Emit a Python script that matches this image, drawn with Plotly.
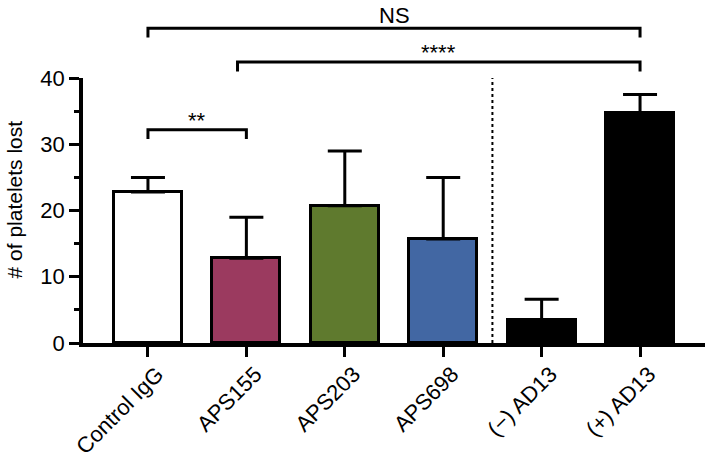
import plotly.graph_objects as go

categories = ["Control IgG", "APS155", "APS203", "APS698", "(\u2212) AD13", "(+) AD13"]
means = [22.8, 12.8, 20.7, 15.7, 3.5, 34.7]
errors_up = [2.2, 6.2, 8.3, 9.3, 3.1, 2.8]
fill_colors = ["#FFFFFF", "#9B3A5F", "#5F7A2E", "#4267A3", "#000000", "#000000"]

# significance brackets: (x_start, x_end, level, label, label_level)
brackets = [
    (0, 5, 47.5, "NS", 47.2),
    (0.91, 5, 42.4, "****", 41.7),
    (0, 1, 32.2, "**", 31.4),
]
YMAX = 40
FONT = "Liberation Sans, Arial, Helvetica, sans-serif"

xs = list(range(len(categories)))

fig = go.Figure()
fig.add_trace(go.Bar(
    x=xs, y=means, width=0.69,
    marker=dict(color=fill_colors, line=dict(color="black", width=3)),
    error_y=dict(type="data", symmetric=False, array=errors_up,
                 arrayminus=[0] * len(means), color="black",
                 thickness=3, width=17),
    showlegend=False,
))

shapes = []
annotations = []
drop = 1.4
for x0, x1, lvl, lab, lablvl in brackets:
    shapes.append(dict(
        type="path", xref="x", yref="paper",
        path=f"M {x0},{(lvl - drop) / YMAX} L {x0},{lvl / YMAX} L {x1},{lvl / YMAX} L {x1},{(lvl - drop) / YMAX}",
        line=dict(color="black", width=3),
    ))
    annotations.append(dict(
        x=(x0 + x1) / 2, y=lablvl / YMAX, xref="x", yref="paper",
        text=lab, showarrow=False, yanchor="bottom",
        font=dict(family=FONT, size=22, color="black"),
    ))

# dotted separator between groups
shapes.append(dict(type="line", xref="x", yref="y", x0=3.5, x1=3.5, y0=0, y1=YMAX,
                   line=dict(color="black", width=2, dash="dot")))

annotations.append(dict(
    x=-0.11, y=0.54, xref="paper", yref="paper", text="# of platelets lost",
    textangle=-90, showarrow=False, xanchor="center", yanchor="middle",
    font=dict(family=FONT, size=21, color="black"),
))

fig.update_layout(
    width=709, height=460,
    margin=dict(l=83, r=4, t=78, b=117),
    plot_bgcolor="white", paper_bgcolor="white",
    font=dict(family=FONT, color="black"),
    shapes=shapes, annotations=annotations,
    bargap=0,
)
fig.update_xaxes(
    range=[-0.66, 5.66], tickmode="array", tickvals=xs, ticktext=categories,
    tickangle=-45, ticks="outside", ticklen=10, tickwidth=3, tickcolor="black",
    showline=True, linewidth=3.5, linecolor="black", showgrid=False, zeroline=False,
    tickfont=dict(family=FONT, size=22, color="black"), automargin=False,
    ticklabelshift=9, ticklabelstandoff=-4,
)
fig.update_yaxes(
    range=[0, YMAX], tickmode="linear", tick0=0, dtick=10,
    ticks="outside", ticklen=10, tickwidth=3, tickcolor="black",
    minor=dict(dtick=5, ticks="outside", ticklen=5, tickwidth=3, tickcolor="black", showgrid=False),
    showline=True, linewidth=3.5, linecolor="black", showgrid=False, zeroline=False,
    tickfont=dict(family=FONT, size=22, color="black"), automargin=False,
)

fig.write_html("out.html", config={"displayModeBar": False},
               post_script="document.body.style.margin='0';")
